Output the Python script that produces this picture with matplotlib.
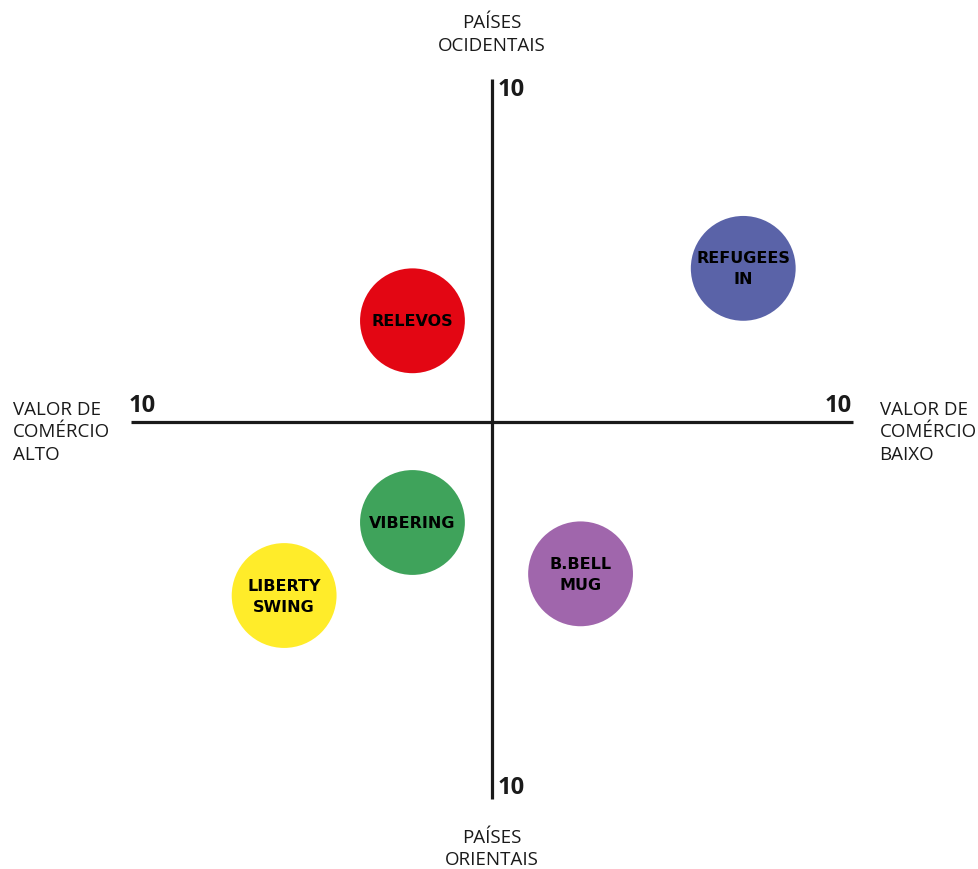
import matplotlib.pyplot as plt
from matplotlib.patches import Circle

# dados do mapa de posicionamento
marcas = ["RELEVOS", "REFUGEES\nIN", "VIBERING", "LIBERTY\nSWING", "B.BELL\nMUG"]
pos_x = [-2.2, 6.95, -2.2, -5.75, 2.45]
pos_y = [2.8, 4.25, -2.78, -4.8, -4.2]
cores = ["#E30613", "#5A63A8", "#3FA35B", "#FFEC2A", "#A066AC"]

eixo_x = [-10, 10]
eixo_y = [-10.43, 9.49]
rotulos_eixo = ["10", "10", "10", "10"]

PX = 36.15  # pixels por unidade


def main():
    fig = plt.figure(figsize=(9.79, 8.7), dpi=100)
    ax = fig.add_axes([0, 0, 1, 1])
    ax.set_xlim(-492 / PX, (979 - 492) / PX)
    ax.set_ylim(-(870 - 423) / PX, 423 / PX)
    ax.set_aspect("equal")
    ax.axis("off")

    # eixos
    ax.plot(eixo_x, [0, 0], color="#1a1a1a", lw=2.3, solid_capstyle="butt")
    ax.plot([0, 0], eixo_y, color="#1a1a1a", lw=2.3, solid_capstyle="butt")

    fonte = ["Open Sans", "DejaVu Sans"]
    kw10 = dict(fontsize=17, fontweight="bold", family=fonte, color="#1a1a1a")
    ax.text(eixo_x[0] - 0.05, 0.15, rotulos_eixo[0], ha="left", va="bottom", **kw10)
    ax.text(eixo_x[1] - 0.05, 0.15, rotulos_eixo[1], ha="right", va="bottom", **kw10)
    ax.text(0.15, eixo_y[1] + 0.05, rotulos_eixo[2], ha="left", va="top", **kw10)
    ax.text(0.15, eixo_y[0] + 0.0, rotulos_eixo[3], ha="left", va="bottom", **kw10)

    kwl = dict(fontsize=13.5, family=fonte, color="#1a1a1a", linespacing=1.32)
    ax.text(0, 10.75, "PAÍSES\nOCIDENTAIS", ha="center", va="center", **kwl)
    ax.text(0, -11.78, "PAÍSES\nORIENTAIS", ha="center", va="center", **kwl)
    ax.text(-13.25, -0.25, "VALOR DE\nCOMÉRCIO\nALTO", ha="left", va="center", **kwl)
    ax.text(10.72, -0.25, "VALOR DE\nCOMÉRCIO\nBAIXO", ha="left", va="center", **kwl)

    # círculos das marcas
    for nome, x, y, cor in zip(marcas, pos_x, pos_y, cores):
        ax.add_patch(Circle((x, y), 1.45, color=cor, lw=0))
        ax.text(x, y, nome, ha="center", va="center", fontsize=11.5,
                fontweight="bold", family=["DejaVu Sans"], color="black",
                linespacing=1.5)

    fig.savefig("out.png", dpi=100)


if __name__ == "__main__":
    main()
